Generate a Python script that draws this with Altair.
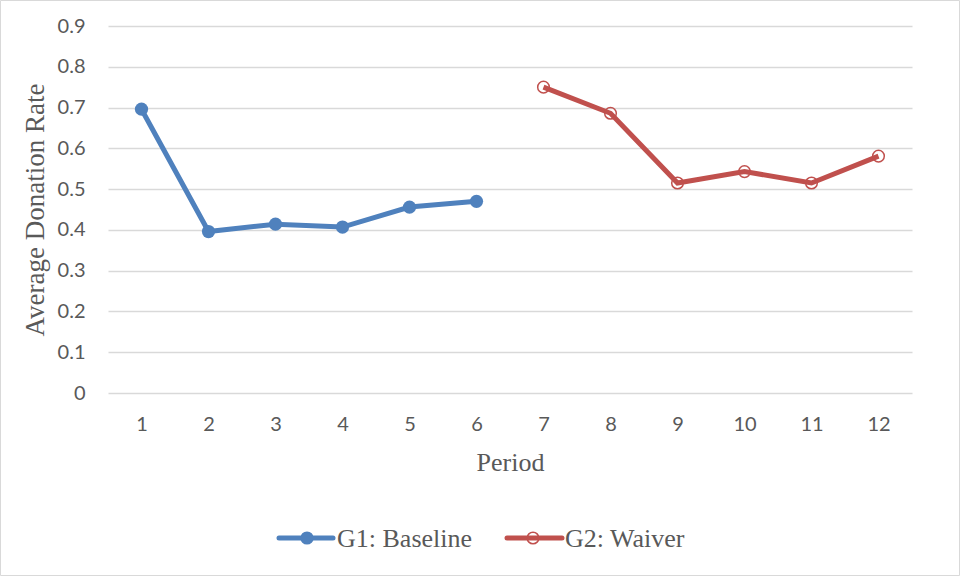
import altair as alt
import pandas as pd

# Average donation rate per period for the two treatment groups
periods_g1 = [1, 2, 3, 4, 5, 6]
rates_g1 = [0.696, 0.396, 0.414, 0.407, 0.456, 0.470]
periods_g2 = [7, 8, 9, 10, 11, 12]
rates_g2 = [0.750, 0.686, 0.515, 0.543, 0.515, 0.581]
series_names = ["G1: Baseline", "G2: Waiver"]
period_labels = [str(p) for p in range(1, 13)]
y_ticks = [0, 0.1, 0.2, 0.3, 0.4, 0.5, 0.6, 0.7, 0.8, 0.9]

BLUE = "#4F81BD"
RED = "#C0504D"
TEXT = "#595959"
GRID = "#D9D9D9"
SERIF = "Liberation Serif"
SANS = "Lato"

df = pd.DataFrame({
    "Period": [str(p) for p in periods_g1 + periods_g2],
    "Rate": rates_g1 + rates_g2,
    "Group": [series_names[0]] * len(periods_g1) + [series_names[1]] * len(periods_g2),
})

color_scale = alt.Scale(domain=series_names, range=[BLUE, RED])

x_enc = alt.X(
    "Period:O",
    sort=period_labels,
    scale=alt.Scale(type="point", padding=0.5, domain=period_labels),
    axis=alt.Axis(
        title="Period", labelAngle=0, ticks=False, tickSize=0, domain=False, grid=False,
        labelFont=SANS, labelFontSize=20, labelColor=TEXT, labelPadding=31,
        labelBaseline="middle",
        titleFont=SERIF, titleFontSize=26, titleFontWeight="normal", titleColor=TEXT,
        titleX=402, titleY=69, titleBaseline="middle",
    ),
)
y_enc = alt.Y(
    "Rate:Q",
    scale=alt.Scale(domain=[0, 0.9], nice=False),
    axis=alt.Axis(
        title="Average Donation Rate", values=y_ticks, format=".1~f",
        ticks=False, tickSize=0, domain=False, grid=True, gridColor=GRID, gridWidth=1.5,
        labelFont=SANS, labelFontSize=20, labelColor=TEXT, labelPadding=23,
        titleFont=SERIF, titleFontSize=27, titleFontWeight="normal", titleColor=TEXT,
        titleX=-73, titleY=183.5, titleBaseline="middle", titleAngle=-90,
    ),
)
color_enc = alt.Color("Group:N", scale=color_scale, legend=None)

base = alt.Chart(df).encode(x=x_enc, y=y_enc, color=color_enc, detail="Group:N")

lines = base.mark_line(strokeWidth=5)

g1_points = base.transform_filter(alt.datum.Group == series_names[0]).mark_point(
    filled=True, size=175, opacity=1, shape="circle"
)
g2_points = base.transform_filter(alt.datum.Group == series_names[1]).mark_point(
    filled=False, size=135, strokeWidth=1.5, opacity=1, shape="circle"
)

# Legend drawn below the plot: line swatch, marker and label per series
def legend_item(name, x0, x1, xc, xt, filled, size, stroke_w):
    d = alt.Chart(pd.DataFrame({"Group": [name]}))
    line = d.mark_rule(strokeWidth=5, strokeCap="round").encode(
        x=alt.value(x0), x2=alt.value(x1), y=alt.value(512),
        color=alt.Color("Group:N", scale=color_scale, legend=None),
    )
    if filled:
        pt = d.mark_point(filled=True, size=size, opacity=1, shape="circle")
    else:
        pt = d.mark_point(filled=False, size=size, strokeWidth=stroke_w, opacity=1,
                          shape="circle")
    pt = pt.encode(
        x=alt.value(xc), y=alt.value(512),
        color=alt.Color("Group:N", scale=color_scale, legend=None),
    )
    txt = d.mark_text(font=SERIF, fontSize=26, color=TEXT, align="left",
                      baseline="middle").encode(
        x=alt.value(xt), y=alt.value(513), text="Group:N"
    )
    return line + pt + txt

legend_g1 = legend_item(series_names[0], 171, 225, 199, 229, True, 175, 0)
legend_g2 = legend_item(series_names[1], 399, 454, 425, 457, False, 135, 1.5)

# Light outer frame around the whole figure
frame = alt.Chart(pd.DataFrame({"k": [0]})).mark_rect(
    fill=None, stroke=GRID, strokeWidth=1
).encode(
    x=alt.value(-107.5), x2=alt.value(851.5), y=alt.value(-25.5), y2=alt.value(549.5)
)

chart = alt.layer(
    lines, g1_points, g2_points, legend_g1, legend_g2, frame
).properties(
    width=804, height=367,
    autosize=alt.AutoSizeParams(type="none"),
    padding={"left": 108, "top": 26, "right": 49, "bottom": 184},
    background="white",
).configure_view(stroke=None)

chart.save("out.html", embed_options={"renderer": "svg", "actions": False})
